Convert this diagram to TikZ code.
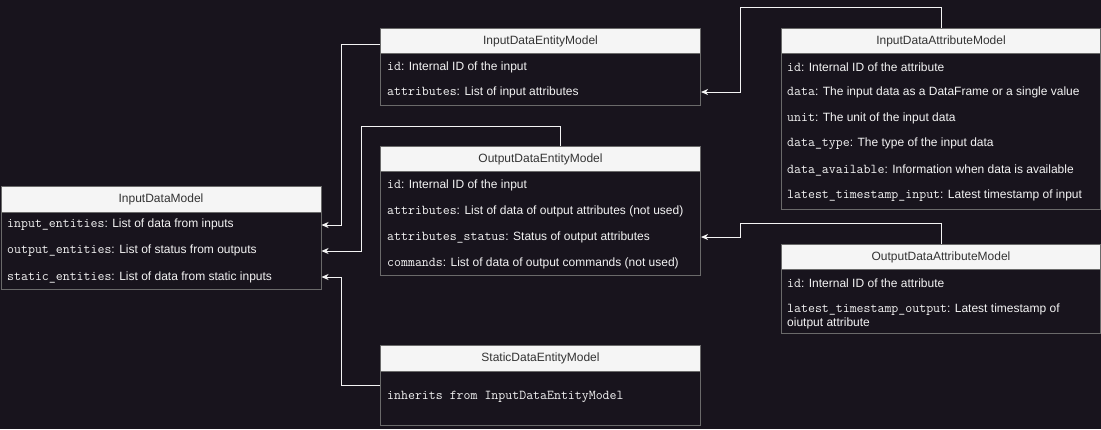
\documentclass[tikz,border=0pt]{standalone}
\usepackage{fontspec}
\setmainfont{Liberation Sans}
\usetikzlibrary{arrows.meta}
\definecolor{bg}{HTML}{18141D}
\definecolor{hdr}{HTML}{F5F5F5}
\definecolor{hdrtext}{HTML}{333333}
\definecolor{bord}{HTML}{6A6A6A}
\definecolor{fg}{HTML}{F4F4F4}
\newcommand{\mono}[1]{{\fontsize{13.5}{14}\selectfont\texttt{#1}}}
\begin{document}
\begin{tikzpicture}[x=1pt,y=-1pt,
  hdrbox/.style={draw=bord, fill=hdr, text=hdrtext, font=\fontsize{12}{14}\selectfont, minimum height=25pt, inner sep=0pt, anchor=north west, line width=1pt},
  bodybox/.style={draw=bord, fill=bg, anchor=north west, inner sep=0pt, line width=1pt},
  rowtext/.style={anchor=west, text=fg, font=\fontsize{12}{14}\selectfont, inner sep=0pt, align=left},
  link/.style={draw=fg, line width=1pt, -{Stealth[length=7pt,width=6pt,inset=2pt]}}]
\fill[bg] (0,0) rectangle (1101,429);
\useasboundingbox (0,0) rectangle (1101,429);

% InputDataModel
\node[hdrbox, minimum width=320pt, minimum height=26pt] (idmh) at (0.5,186) {InputDataModel};
\node[bodybox, minimum width=320pt, minimum height=77pt] (idmb) at (0.5,212) {};
\node[rowtext] (idmr1) at (7,225) {\mono{input\_entities}: List of data from inputs};
\node[rowtext] (idmr2) at (7,251) {\mono{output\_entities}: List of status from outputs};
\node[rowtext] (idmr3) at (7,277) {\mono{static\_entities}: List of data from static inputs};

% InputDataEntityModel
\node[hdrbox, minimum width=320pt] (ideh) at (380,28) {InputDataEntityModel};
\node[bodybox, minimum width=320pt, minimum height=52pt] (ideb) at (380,53) {};
\node[rowtext] (ider1) at (387,67) {\mono{id}: Internal ID of the input};
\node[rowtext] (ider2) at (387,92) {\mono{attributes}: List of input attributes};

% InputDataAttributeModel
\node[hdrbox, minimum width=319pt] (idah) at (781,28) {InputDataAttributeModel};
\node[bodybox, minimum width=319pt, minimum height=156pt] (idab) at (781,53) {};
\node[rowtext] (idar1) at (787,67) {\mono{id}: Internal ID of the attribute};
\node[rowtext] (idar2) at (787,92) {\mono{data}: The input data as a DataFrame or a single value};
\node[rowtext] (idar3) at (787,118) {\mono{unit}: The unit of the input data};
\node[rowtext] (idar4) at (787,144) {\mono{data\_type}: The type of the input data};
\node[rowtext] (idar5) at (787,170) {\mono{data\_available}: Information when data is available};
\node[rowtext] (idar6) at (787,196) {\mono{latest\_timestamp\_input}: Latest timestamp of input};

% OutputDataEntityModel
\node[hdrbox, minimum width=320pt] (odeh) at (380,146) {OutputDataEntityModel};
\node[bodybox, minimum width=320pt, minimum height=104pt] (odeb) at (380,171) {};
\node[rowtext] (oder1) at (387,185) {\mono{id}: Internal ID of the input};
\node[rowtext] (oder2) at (387,211) {\mono{attributes}: List of data of output attributes (not used)};
\node[rowtext] (oder3) at (387,237) {\mono{attributes\_status}: Status of output attributes};
\node[rowtext] (oder4) at (387,263) {\mono{commands}: List of data of output commands (not used)};

% OutputDataAttributeModel
\node[hdrbox, minimum width=319pt] (odah) at (781,244) {OutputDataAttributeModel};
\node[bodybox, minimum width=319pt, minimum height=64pt] (odab) at (781,269) {};
\node[rowtext] (odar1) at (787,283) {\mono{id}: Internal ID of the attribute};
\node[rowtext] (odar2) at (787,316) {\mono{latest\_timestamp\_output}: Latest timestamp of\\oiutput attribute};

% StaticDataEntityModel
\node[hdrbox, minimum width=320pt, minimum height=26pt] (sdeh) at (380,345) {StaticDataEntityModel};
\node[bodybox, minimum width=320pt, minimum height=54pt] (sdeb) at (380,371) {};
\node[rowtext] (sder1) at (387,397) {\mono{inherits from InputDataEntityModel}};

% connectors
\draw[link] ([yshift=-3.5pt]ideh.west) -| (341,225) -- (idmb.east |- idmr1);
\draw[link] (idah.north) |- (740,7) |- (ideb.east |- ider2);
\draw[link] ([xshift=20pt]odeh.north) |- (361,126) |- (idmb.east |- idmr2);
\draw[link] (odah.north) |- (740,223) |- (odeb.east |- oder3);
\draw[link] ([yshift=13pt]sdeb.west) -| (341,277) -- (idmb.east |- idmr3);
\end{tikzpicture}
\end{document}
